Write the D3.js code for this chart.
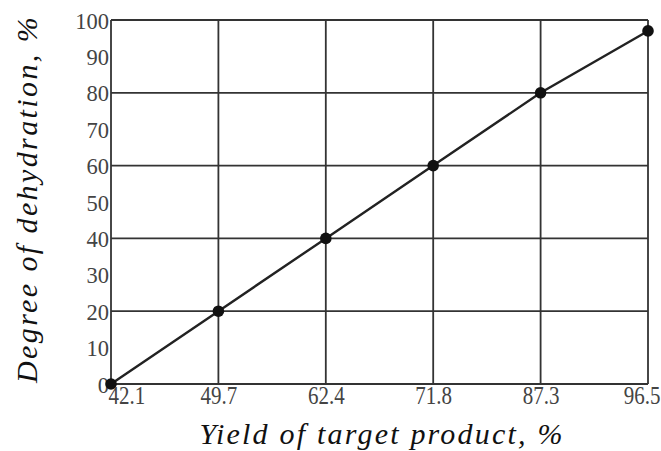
<!DOCTYPE html>
<html><head><meta charset="utf-8">
<script src="https://cdn.jsdelivr.net/npm/d3@7"></script>
<style>body{margin:0;background:#fff}svg{display:block}text{font-family:"Liberation Serif","Times New Roman",serif}</style>
</head><body>
<svg id="c" width="661" height="451"></svg>
<script>
const categories = ["42.1","49.7","62.4","71.8","87.3","96.5"];
const values = [0,20,40,60,80,97];
const yTicks = [0,10,20,30,40,50,60,70,80,90,100];
const gridY = [0,20,40,60,80,100];
const xTitle = "Yield of target product, %";
const yTitle = "Degree of dehydration, %";

const svg = d3.select("#c");
const m = {l:111, r:13, t:20, b:67};
const W = 661, H = 451;
const x = d3.scalePoint().domain(categories).range([m.l, W - m.r]);
const y = d3.scaleLinear().domain([0,100]).range([H - m.b, m.t]);
const g = svg.append("g");

g.selectAll("line.h").data(gridY).enter().append("line")
  .attr("x1", m.l).attr("x2", W - m.r).attr("y1", d=>y(d)).attr("y2", d=>y(d))
  .attr("stroke","#333").attr("stroke-width",1.8);
g.selectAll("line.v").data(categories).enter().append("line")
  .attr("x1", d=>x(d)).attr("x2", d=>x(d)).attr("y1", y(0)).attr("y2", y(100))
  .attr("stroke","#333").attr("stroke-width",1.8);

// y tick labels
const yAxis = d3.axisLeft(y).tickValues(yTicks).tickSize(0).tickPadding(2);
const ya = svg.append("g").attr("transform",`translate(${m.l},0)`).call(yAxis);
ya.select(".domain").remove();
ya.attr("font-family",null);
ya.selectAll("text").attr("font-size",22.5).attr("fill","#444").attr("dy","0.36em");

// x tick labels
const xAxis = d3.axisBottom(x).tickSize(0).tickPadding(0);
const xa = svg.append("g").attr("transform",`translate(0,${y(0)})`).call(xAxis);
xa.select(".domain").remove();
xa.attr("font-family",null);
const n = categories.length;
xa.selectAll(".tick text").attr("font-size",21).attr("fill","#444")
  .attr("y",0).attr("dy",0)
  .attr("text-anchor",(d,i)=> i===0 ? "start" : (i===n-1 ? "end" : "middle"))
  .attr("transform",(d,i)=>`translate(${i===0 ? -3 : (i===n-1 ? 12 : 0)},20) scale(1,1.22)`);

// line
const data = categories.map((c,i)=>({c, v:values[i]}));
svg.append("path").datum(data)
  .attr("d", d3.line().x(d=>x(d.c)).y(d=>y(d.v)))
  .attr("fill","none").attr("stroke","#222").attr("stroke-width",2.4);
svg.selectAll("circle").data(data).enter().append("circle")
  .attr("cx", d=>x(d.c)).attr("cy", d=>y(d.v)).attr("r",5.8).attr("fill","#111");

// titles
svg.append("text").attr("x", 382).attr("y", 444).attr("text-anchor","middle")
  .attr("font-style","italic").attr("font-size",30).attr("letter-spacing",2.2)
  .attr("fill","#111").text(xTitle);
svg.append("text").attr("transform","translate(37,199) rotate(-90)").attr("text-anchor","middle")
  .attr("font-style","italic").attr("font-size",30).attr("letter-spacing",2.4)
  .attr("fill","#111").text(yTitle);
</script>
</body></html>
